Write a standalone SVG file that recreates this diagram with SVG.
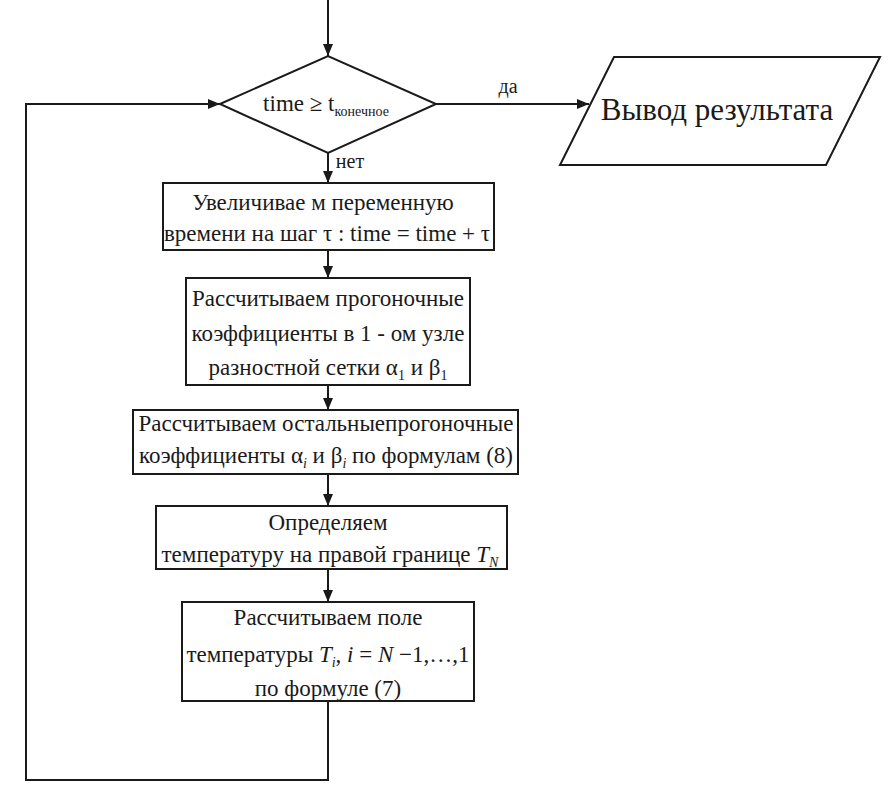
<svg xmlns="http://www.w3.org/2000/svg" width="889" height="794" viewBox="0 0 889 794" font-family="'Liberation Serif', 'DejaVu Serif', serif">
<defs>
<marker id="ah" viewBox="0 0 12 10" refX="12" refY="5" markerWidth="12" markerHeight="10" markerUnits="userSpaceOnUse" orient="auto">
<path d="M0,0 L12,5 L0,10 z" fill="#1a1a1a"/>
</marker>
<style>
.sh{fill:#fff;stroke:#1a1a1a;stroke-width:2}
.ln{fill:none;stroke:#1a1a1a;stroke-width:2}
text{font-family:'Liberation Serif','DejaVu Serif',serif;fill:#1a1a1a;font-size:23px;text-anchor:middle}
.it{font-style:italic}
.sub{font-size:14px}
</style>
</defs>
<rect width="889" height="794" fill="#fff"/>
<g id="connectors">
<line class="ln" x1="328" y1="0" x2="328" y2="56" marker-end="url(#ah)"/>
<line class="ln" x1="436" y1="104" x2="589" y2="104" marker-end="url(#ah)"/>
<line class="ln" x1="328" y1="153" x2="328" y2="183" marker-end="url(#ah)"/>
<line class="ln" x1="328" y1="250" x2="328" y2="278" marker-end="url(#ah)"/>
<line class="ln" x1="328" y1="385" x2="328" y2="410" marker-end="url(#ah)"/>
<line class="ln" x1="328" y1="474" x2="328" y2="506" marker-end="url(#ah)"/>
<line class="ln" x1="328" y1="569" x2="328" y2="602" marker-end="url(#ah)"/>
<polyline class="ln" points="328,701 328,780 26,780 26,104 220,104" marker-end="url(#ah)"/>
<text x="508" y="93" style="font-size:20px">да</text>
<text x="350" y="168" style="font-size:20px">нет</text>
</g>
<g id="decision">
<polygon class="sh" points="220,104 328,56 436,104 328,153"/>
<text x="326" y="111">time ≥ t<tspan class="sub" dy="5">конечное</tspan></text>
</g>
<g id="output">
<polygon class="sh" points="614,57 880,57 826,165 560,165"/>
<text x="717" y="120" style="font-size:31px">Вывод результата</text>
</g>
<g id="box1">
<rect class="sh" x="163" y="183" width="331" height="67"/>
<text x="323" y="210">Увеличивае м переменную</text>
<text x="327" y="241">времени на шаг τ :  time = time + τ</text>
</g>
<g id="box2">
<rect class="sh" x="186" y="278" width="284" height="107"/>
<text x="328" y="306">Рассчитываем прогоночные</text>
<text x="328" y="341">коэффициенты в 1 - ом  узле</text>
<text x="328" y="375">разностной сетки  α<tspan class="sub" dy="5">1</tspan><tspan dy="-5"> и β</tspan><tspan class="sub" dy="5">1</tspan></text>
</g>
<g id="box3">
<rect class="sh" x="133" y="410" width="385" height="64"/>
<text x="326" y="431">Рассчитываем остальныепрогоночные</text>
<text x="326" y="463">коэффициенты α<tspan class="sub it" dy="5">i</tspan><tspan dy="-5"> и β</tspan><tspan class="sub it" dy="5">i</tspan><tspan dy="-5"> по формулам (8)</tspan></text>
</g>
<g id="box4">
<rect class="sh" x="156" y="506" width="351" height="63"/>
<text x="328" y="530">Определяем</text>
<text x="330" y="562">температуру на правой границе <tspan class="it">T</tspan><tspan class="sub it" dy="5">N</tspan></text>
</g>
<g id="box5">
<rect class="sh" x="182" y="602" width="292" height="99"/>
<text x="328" y="625">Рассчитываем поле</text>
<text x="328" y="662">температуры <tspan class="it">T</tspan><tspan class="sub it" dy="5">i</tspan><tspan dy="-5">,  </tspan><tspan class="it">i</tspan> = <tspan class="it">N</tspan> −1,…,1</text>
<text x="328" y="696">по формуле (7)</text>
</g>
</svg>
